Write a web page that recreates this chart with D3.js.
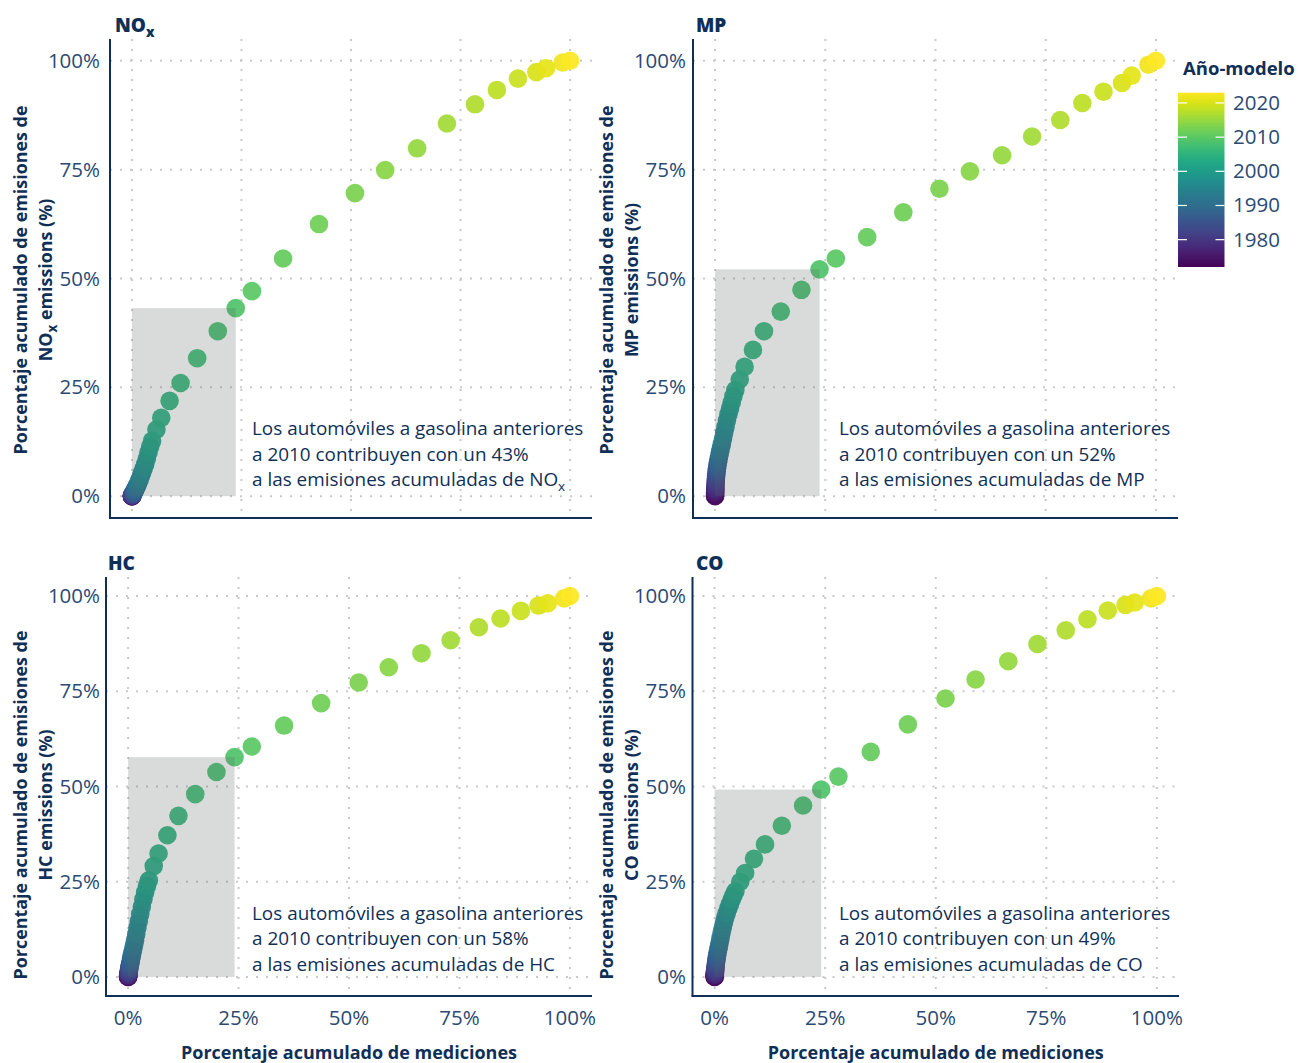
<!DOCTYPE html>
<html><head><meta charset="utf-8">
<script src="https://cdn.jsdelivr.net/npm/d3@7"></script>
<style>
body{margin:0;background:#fff}
svg{display:block;font-family:"Open Sans",Lato,sans-serif}
</style>
</head><body>
<svg id="chart" width="1298" height="1063"></svg>
<script>
// ---------------- DATA ----------------
const modelYears = [1972,1973,1974,1975,1976,1977,1978,1979,1980,1981,1982,1983,1984,1985,1986,1987,1988,1989,1990,1991,
  1992,1993,1994,1995,1996,1997,1998,1999,2000,2001,2002,2003,2004,2005,2006,2007,2008,2009,2010,2011,
  2012,2013,2014,2015,2016,2017,2018,2019,2020,2021,2022,2023];

// cumulative % of measurements (NOx / MP panels)
const xTop = [0,0.01,0.02,0.03,0.04,0.05,0.07,0.09,0.12,0.15,0.19,0.24,0.30,0.37,0.45,0.55,0.67,0.80,0.95,1.12,
  1.32,1.55,1.80,2.07,2.37,2.70,3.05,3.40,3.78,4.18,4.60,5.6,6.7,8.6,11.1,14.9,19.6,23.7,27.4,34.5,
  42.7,50.9,57.8,65.1,71.9,78.3,83.3,88.1,92.3,94.5,98.3,100];
// cumulative % of measurements (HC / CO panels)
const xBottom = [0,0.01,0.02,0.03,0.04,0.05,0.07,0.09,0.12,0.15,0.19,0.24,0.31,0.38,0.46,0.56,0.68,0.82,0.97,1.14,
  1.35,1.58,1.84,2.11,2.42,2.75,3.11,3.47,3.86,4.27,4.70,5.8,6.9,8.9,11.4,15.2,20.0,24.1,28.0,35.3,
  43.7,52.2,59.0,66.4,73.0,79.4,84.3,88.9,92.9,95.0,98.7,100];

// cumulative % of emissions
const yNOx = [0,0.02,0.04,0.06,0.08,0.10,0.14,0.18,0.24,0.3,0.38,0.48,0.6,0.75,0.92,1.12,1.37,1.64,1.95,2.3,
  2.75,3.3,3.9,4.7,5.5,6.4,7.4,8.6,10.0,11.4,12.7,15.3,18.0,21.9,26.0,31.7,37.9,43.2,47.1,54.6,
  62.5,69.6,74.9,79.9,85.6,90.0,93.3,95.9,97.4,98.3,99.6,100];
const yMP = [0,0.3,0.6,0.9,1.2,1.5,1.9,2.4,2.9,3.4,4.0,4.6,5.2,5.8,6.4,7.1,7.8,8.5,9.3,10.1,
  11.0,12.0,13.2,14.5,15.9,17.4,18.8,20.1,21.5,23.0,24.4,26.8,29.7,33.6,37.9,42.4,47.4,52.1,54.6,59.5,
  65.2,70.6,74.6,78.3,82.6,86.4,90.3,92.9,94.9,96.6,99.1,100];
const yHC = [0,0.1,0.2,0.3,0.4,0.5,0.7,0.9,1.1,1.4,1.7,2.1,2.5,3.0,3.4,4.0,4.7,5.5,6.3,7.2,
  8.3,9.6,11.2,12.9,14.6,16.5,18.4,20.4,22.2,23.9,25.4,29.1,32.4,37.2,42.3,48.0,53.8,57.7,60.5,66.0,
  71.9,77.3,81.3,85.0,88.4,91.8,94.1,96.1,97.5,98.1,99.4,100];
const yCO = [0,0.15,0.3,0.45,0.6,0.75,1.0,1.3,1.6,2.0,2.5,3.0,3.7,4.3,4.9,5.6,6.4,7.2,8.0,9.0,
  10.2,11.6,12.9,14.2,15.6,16.8,18.0,19.1,20.3,21.4,22.5,25.0,27.3,31.0,34.8,39.7,45.0,49.2,52.6,59.1,
  66.3,73.1,78.1,82.9,87.4,91.0,93.9,96.2,97.7,98.3,99.4,100];

const pollutants = ["NO", "MP", "HC", "CO"];
const pollutantSub = ["x", "", "", ""];
const sharePre2010 = [43, 52, 58, 49];
const cutoffYear = 2009;
const axisTicks = [0, 25, 50, 75, 100];
const legendTicks = [1980, 1990, 2000, 2010, 2020];
const yearDomain = [1972, 2023];

// ---------------- LAYOUT ----------------
const svg = d3.select("#chart");
const navy = "#0f2f57";
const tickCol = "#2b4a72";
const color = d3.scaleSequential(d3.interpolateViridis).domain(yearDomain);

const panels = [
  {i:0, xs:xTop,    ys:yNOx, left:110, right:592,   top:39,  bottom:518, titleX:115, titleY:32,  yTitleX:27,  yTitleY:280, tickRight:100, annX:252, annDy:-61, showX:false},
  {i:1, xs:xTop,    ys:yMP,  left:693, right:1178,  top:39,  bottom:518, titleX:696, titleY:32,  yTitleX:613, yTitleY:280, tickRight:686, annX:839, annDy:-61, showX:false},
  {i:2, xs:xBottom, ys:yHC,  left:106, right:592,   top:577, bottom:996, titleX:108, titleY:570, yTitleX:27,  yTitleY:805, tickRight:100, annX:252, annDy:-57, showX:true},
  {i:3, xs:xBottom, ys:yCO,  left:692.5, right:1179, top:577, bottom:996, titleX:696, titleY:570, yTitleX:613, yTitleY:805, tickRight:686, annX:839, annDy:-57, showX:true}
];

function addLabel(sel, main, sub, rest, subSize, shift){
  sel.append("tspan").text(main);
  if (sub) sel.append("tspan").attr("dy", shift).attr("font-size", subSize).text(sub);
  if (rest) sel.append("tspan").attr("dy", sub ? -shift : 0).text(rest);
}

panels.forEach(p => {
  const x = d3.scaleLinear().domain([-5, 105]).range([p.left, p.right]);
  const y = d3.scaleLinear().domain([-5, 105]).range([p.bottom, p.top]);
  const g = svg.append("g");

  // grid
  g.selectAll(".gx").data(axisTicks).join("line")
    .attr("x1", d => x(d)).attr("x2", d => x(d)).attr("y1", p.top).attr("y2", p.bottom)
    .attr("stroke", "#c9c9c9").attr("stroke-width", 2).attr("stroke-dasharray", "2,8");
  g.selectAll(".gy").data(axisTicks).join("line")
    .attr("y1", d => y(d)).attr("y2", d => y(d)).attr("x1", p.left).attr("x2", p.right)
    .attr("stroke", "#c9c9c9").attr("stroke-width", 2).attr("stroke-dasharray", "2,8");

  // points
  const pts = modelYears.map((yr, k) => ({yr, x: p.xs[k], y: p.ys[k]}));
  g.selectAll("circle").data(pts).join("circle")
    .attr("cx", d => x(d.x)).attr("cy", d => y(d.y)).attr("r", 9.3)
    .attr("fill", d => color(d.yr)).attr("fill-opacity", 0.93);

  // shaded rectangle (pre-2010)
  const cut = pts.find(d => d.yr === cutoffYear);
  g.append("rect")
    .attr("x", x(0)).attr("y", y(cut.y))
    .attr("width", x(cut.x) - x(0)).attr("height", y(0) - y(cut.y))
    .attr("fill", "#56625f").attr("fill-opacity", 0.23);

  // annotation
  const ax = p.annX;
  const ann = g.append("text").attr("fill", navy).attr("font-size", 18.9)
    .attr("x", ax).attr("y", y(0) + p.annDy);
  ann.append("tspan").attr("x", ax).attr("dy", 0).text("Los automóviles a gasolina anteriores");
  ann.append("tspan").attr("x", ax).attr("dy", 25.5).text(`a 2010 contribuyen con un ${sharePre2010[p.i]}%`);
  ann.append("tspan").attr("x", ax).attr("dy", 25.5).text("a las emisiones acumuladas de " + pollutants[p.i]);
  if (pollutantSub[p.i]) {
    ann.append("tspan").attr("dy", 5).attr("font-size", 13.5).text(pollutantSub[p.i]);
  }

  // axis lines
  g.append("line").attr("x1", p.left).attr("x2", p.left).attr("y1", p.top).attr("y2", p.bottom)
    .attr("stroke", navy).attr("stroke-width", 2);
  g.append("line").attr("x1", p.left - 1).attr("x2", p.right).attr("y1", p.bottom).attr("y2", p.bottom)
    .attr("stroke", navy).attr("stroke-width", 2);

  // y tick labels
  g.selectAll(".yt").data(axisTicks).join("text")
    .attr("x", p.tickRight).attr("y", d => y(d) + 7)
    .attr("text-anchor", "end").attr("font-size", 20.5).attr("fill", tickCol)
    .text(d => d + "%");

  if (p.showX) {
    g.selectAll(".xt").data(axisTicks).join("text")
      .attr("x", d => x(d)).attr("y", p.bottom + 29)
      .attr("text-anchor", "middle").attr("font-size", 20.5).attr("fill", tickCol)
      .text(d => d + "%");
    g.append("text").attr("x", (x(0) + x(100)) / 2).attr("y", 1059)
      .attr("text-anchor", "middle").attr("font-size", 18).attr("font-weight", 700).attr("fill", navy)
      .text("Porcentaje acumulado de mediciones");
  }

  // panel title
  const t = g.append("text").attr("x", p.titleX).attr("y", p.titleY)
    .attr("font-size", 19).attr("font-weight", 800).attr("fill", navy);
  addLabel(t, pollutants[p.i], pollutantSub[p.i], "", 13.5, 5);

  // y axis title
  const yt = g.append("g").attr("transform", `translate(${p.yTitleX},${p.yTitleY}) rotate(-90)`);
  yt.append("text").attr("text-anchor", "middle").attr("font-size", 17.9).attr("font-weight", 700)
    .attr("fill", navy).text("Porcentaje acumulado de emisiones de");
  const yt2 = yt.append("text").attr("y", 25).attr("text-anchor", "middle").attr("font-size", 17.9)
    .attr("font-weight", 700).attr("fill", navy);
  addLabel(yt2, pollutants[p.i], pollutantSub[p.i], " emissions (%)", 13.5, 5);
});

// ---------------- LEGEND ----------------
const lg = svg.append("g");
lg.append("text").attr("x", 1183).attr("y", 75).attr("font-size", 18.5).attr("font-weight", 700)
  .attr("fill", navy).text("Año-modelo");
const barTop = 92.7, barBot = 267, barX = 1178, barW = 46.5;
const grad = svg.append("defs").append("linearGradient").attr("id", "vgrad")
  .attr("x1", 0).attr("x2", 0).attr("y1", 1).attr("y2", 0);
d3.range(0, 1.0001, 0.02).forEach(t => {
  grad.append("stop").attr("offset", t).attr("stop-color", d3.interpolateViridis(t));
});
lg.append("rect").attr("x", barX).attr("y", barTop).attr("width", barW).attr("height", barBot - barTop)
  .attr("fill", "url(#vgrad)");
const ly = d3.scaleLinear().domain(yearDomain).range([barBot, barTop]);
legendTicks.forEach(v => {
  lg.append("line").attr("x1", barX).attr("x2", barX + 9).attr("y1", ly(v)).attr("y2", ly(v))
    .attr("stroke", "#fff").attr("stroke-width", 1.2);
  lg.append("line").attr("x1", barX + barW - 9).attr("x2", barX + barW).attr("y1", ly(v)).attr("y2", ly(v))
    .attr("stroke", "#fff").attr("stroke-width", 1.2);
  lg.append("text").attr("x", 1233).attr("y", ly(v) + 7).attr("font-size", 20.5).attr("fill", tickCol).text(v);
});
</script>
</body></html>
